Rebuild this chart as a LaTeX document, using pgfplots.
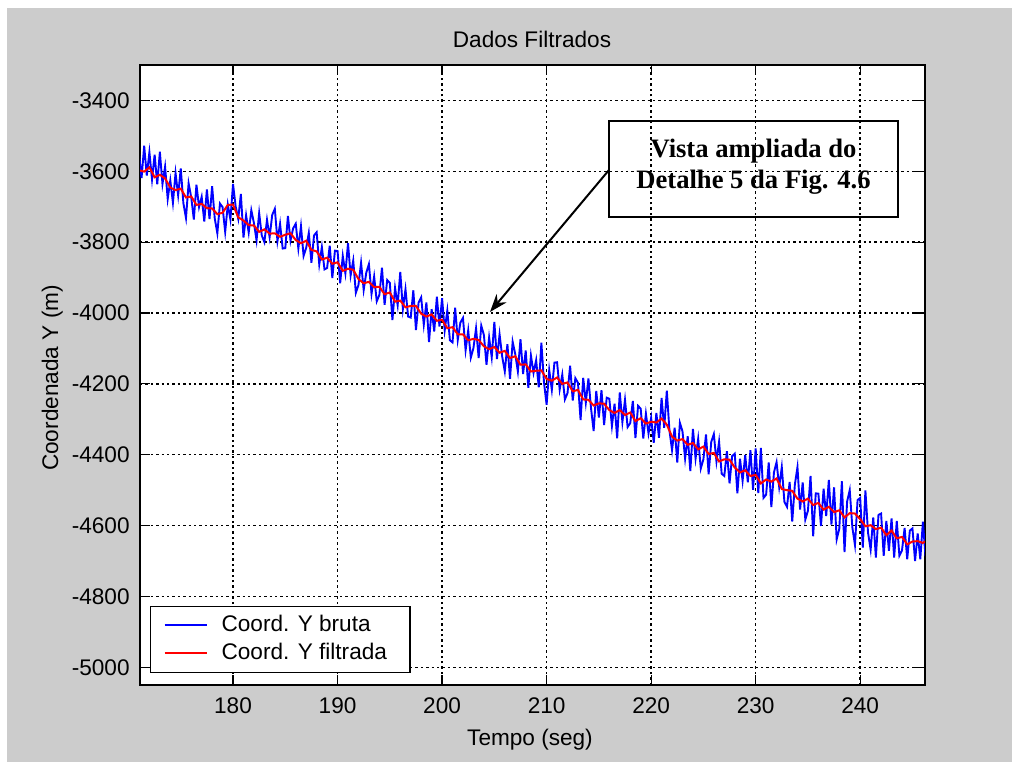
\documentclass[border=0pt]{standalone}
\usepackage{fontspec}
\setmainfont{Liberation Sans}
\newfontfamily\tnr{Liberation Serif}
\usepackage{pgfplots}
\pgfplotsset{compat=1.18}
\pgfplotsset{legend image code/.code={\path (0pt,0pt); \draw[#1] (2pt,0pt) -- (23pt,0pt);}}
\usetikzlibrary{arrows.meta}
\definecolor{bg}{RGB}{204,204,204}
\newcommand\mfont{\fontsize{11.3}{13.5}\selectfont}
\begin{document}
\begin{tikzpicture}
\fill[white] (0pt,0pt) rectangle (506pt,381pt);
\fill[bg] (3.5pt,0pt) rectangle (506pt,377pt);
\begin{axis}[
  at={(70pt,38.5pt)}, anchor=south west,
  scale only axis, width=392.5pt, height=310pt,
  xmin=171.1, xmax=246.2, ymin=-5050, ymax=-3300,
  xtick={180,190,...,240}, xticklabels={180,190,200,210,220,230,240},
  ytick={-5000,-4800,...,-3400},
  yticklabels={-5000,-4800,-4600,-4400,-4200,-4000,-3800,-3600,-3400},
  grid=major,
  major grid style={black, line width=0.7pt, dash pattern=on 1.2pt off 1.5pt},
  tick align=inside, major tick length=5pt,
  tick style={black, line width=0.6pt},
  axis line style={black, line width=0.8pt},
  axis background/.style={fill=white},
  tick label style={font=\mfont, inner sep=0pt},
  xticklabel style={yshift=-6pt},
  yticklabel style={xshift=-5pt},
  legend style={at={(axis description cs:0,0)}, anchor=south west,
    xshift=5pt, yshift=6pt, draw=black, line width=0.6pt, fill=white,
    font=\mfont, inner xsep=4.5pt, inner ysep=4.5pt, row sep=4pt,
    nodes={inner xsep=7pt, inner ysep=0pt, text height=8pt, text depth=2pt, anchor=west}},
  legend cell align=left,
]
\addplot[blue, line width=0.95pt] coordinates {
(171,-3549)(171.25,-3619)(171.5,-3528)(171.75,-3612)
(172,-3546)(172.25,-3623)(172.5,-3553)(172.75,-3637)
(173,-3545)(173.25,-3636)(173.5,-3587)(173.75,-3678)
(174,-3626)(174.25,-3689)(174.5,-3605)(174.75,-3668)
(175,-3592)(175.25,-3690)(175.5,-3732)(175.75,-3634)
(176,-3673)(176.25,-3736)(176.5,-3638)(176.75,-3701)
(177,-3672)(177.25,-3742)(177.5,-3651)(177.75,-3735)
(178,-3642)(178.25,-3733)(178.5,-3775)(178.75,-3691)
(179,-3701)(179.25,-3771)(179.5,-3694)(179.75,-3736)
(180,-3636)(180.25,-3699)(180.5,-3734)(180.75,-3664)
(181,-3787)(181.25,-3724)(181.5,-3773)(181.75,-3710)
(182,-3746)(182.25,-3795)(182.5,-3718)(182.75,-3781)
(183,-3800)(183.25,-3737)(183.5,-3786)(183.75,-3723)
(184,-3706)(184.25,-3797)(184.5,-3748)(184.75,-3818)
(185,-3817)(185.25,-3726)(185.5,-3796)(185.75,-3761)
(186,-3748)(186.25,-3818)(186.5,-3755)(186.75,-3839)
(187,-3816)(187.25,-3774)(187.5,-3858)(187.75,-3781)
(188,-3772)(188.25,-3863)(188.5,-3814)(188.75,-3877)
(189,-3873)(189.25,-3810)(189.5,-3901)(189.75,-3824)
(190,-3825)(190.25,-3916)(190.5,-3839)(190.75,-3888)
(191,-3803)(191.25,-3894)(191.5,-3852)(191.75,-3943)
(192,-3921)(192.25,-3858)(192.5,-3935)(192.75,-3886)
(193,-3862)(193.25,-3946)(193.5,-3897)(193.75,-3967)
(194,-3949)(194.25,-3872)(194.5,-3977)(194.75,-3907)
(195,-3915)(195.25,-4020)(195.5,-3929)(195.75,-3978)
(196,-3884)(196.25,-3989)(196.5,-3933)(196.75,-4010)
(197,-4013)(197.25,-3936)(197.5,-4048)(197.75,-3971)
(198,-3956)(198.25,-4033)(198.5,-3970)(198.75,-4082)
(199,-3989)(199.25,-4052)(199.5,-3954)(199.75,-4038)
(200,-3958)(200.25,-4049)(200.5,-3993)(200.75,-4077)
(201,-4083)(201.25,-3985)(201.5,-4076)(201.75,-4027)
(202,-4014)(202.25,-4105)(202.5,-4049)(202.75,-4126)
(203,-4099)(203.25,-4043)(203.5,-4127)(203.75,-4036)
(204,-4062)(204.25,-4146)(204.5,-4069)(204.75,-4125)
(205,-4025)(205.25,-4130)(205.5,-4060)(205.75,-4123)
(206,-4165)(206.25,-4088)(206.5,-4186)(206.75,-4081)
(207,-4116)(207.25,-4165)(207.5,-4074)(207.75,-4172)
(208,-4106)(208.25,-4211)(208.5,-4120)(208.75,-4169)
(209,-4133)(209.25,-4210)(209.5,-4084)(209.75,-4196)
(210,-4259)(210.25,-4161)(210.5,-4217)(210.75,-4140)
(211,-4139)(211.25,-4216)(211.5,-4174)(211.75,-4244)
(212,-4226)(212.25,-4149)(212.5,-4247)(212.75,-4184)
(213,-4197)(213.25,-4302)(213.5,-4183)(213.75,-4253)
(214,-4185)(214.25,-4269)(214.5,-4333)(214.75,-4220)
(215,-4295)(215.25,-4218)(215.5,-4316)(215.75,-4239)
(216,-4242)(216.25,-4319)(216.5,-4256)(216.75,-4354)
(217,-4224)(217.25,-4308)(217.5,-4245)(217.75,-4322)
(218,-4311)(218.25,-4248)(218.5,-4353)(218.75,-4262)
(219,-4270)(219.25,-4354)(219.5,-4284)(219.75,-4340)
(220,-4296)(220.25,-4366)(220.5,-4282)(220.75,-4352)
(221,-4240)(221.25,-4324)(221.5,-4219)(221.75,-4331)
(222,-4387)(222.25,-4324)(222.5,-4422)(222.75,-4310)
(223,-4334)(223.25,-4411)(223.5,-4348)(223.75,-4446)
(224,-4327)(224.25,-4411)(224.5,-4355)(224.75,-4439)
(225,-4413)(225.25,-4343)(225.5,-4455)(225.75,-4364)
(226,-4342)(226.25,-4419)(226.5,-4363)(226.75,-4454)
(227,-4460)(227.25,-4390)(227.5,-4481)(227.75,-4404)
(228,-4397)(228.25,-4509)(228.5,-4411)(228.75,-4474)
(229,-4401)(229.25,-4478)(229.5,-4387)(229.75,-4499)
(230,-4382)(230.25,-4508)(230.5,-4381)(230.75,-4522)
(231,-4513)(231.25,-4422)(231.5,-4548)(231.75,-4450)
(232,-4421)(232.25,-4491)(232.5,-4435)(232.75,-4533)
(233,-4547)(233.25,-4477)(233.5,-4589)(233.75,-4484)
(234,-4435)(234.25,-4555)(234.5,-4478)(234.75,-4583)
(235,-4558)(235.25,-4460)(235.5,-4630)(235.75,-4509)
(236,-4510)(236.25,-4601)(236.5,-4496)(236.75,-4573)
(237,-4471)(237.25,-4597)(237.5,-4492)(237.75,-4639)
(238,-4609)(238.25,-4475)(238.5,-4675)(238.75,-4532)
(239,-4500)(239.25,-4605)(239.5,-4655)(239.75,-4528)
(240,-4522)(240.25,-4662)(240.5,-4501)(240.75,-4620)
(241,-4668)(241.25,-4577)(241.5,-4690)(241.75,-4570)
(242,-4566)(242.25,-4685)(242.5,-4587)(242.75,-4671)
(243,-4580)(243.25,-4690)(243.5,-4587)(243.75,-4685)
(244,-4670)(244.25,-4607)(244.5,-4695)(244.75,-4614)
(245,-4608)(245.25,-4700)(245.5,-4622)(245.75,-4695)
(246,-4589)(246.25,-4687)
};
\addlegendentry{Coord. Y bruta}
\addplot[red, line width=1pt] coordinates {
(171,-3597)(171.5,-3601)(172,-3589)(172.5,-3617)(173,-3610)(173.5,-3620)
(174,-3646)(174.5,-3653)(175,-3649)(175.5,-3674)(176,-3671)(176.5,-3695)
(177,-3692)(177.5,-3704)(178,-3705)(178.5,-3721)(179,-3717)(179.5,-3695)
(180,-3694)(180.5,-3730)(181,-3739)(181.5,-3752)(182,-3753)(182.5,-3771)
(183,-3764)(183.5,-3776)(184,-3775)(184.5,-3785)(185,-3779)(185.5,-3775)
(186,-3794)(186.5,-3803)(187,-3796)(187.5,-3822)(188,-3826)(188.5,-3849)
(189,-3844)(189.5,-3861)(190,-3857)(190.5,-3881)(191,-3875)(191.5,-3878)
(192,-3904)(192.5,-3916)(193,-3912)(193.5,-3927)(194,-3926)(194.5,-3947)
(195,-3942)(195.5,-3968)(196,-3965)(196.5,-3984)(197,-3980)(197.5,-3980)
(198,-4002)(198.5,-4010)(199,-4004)(199.5,-4022)(200,-4019)(200.5,-4043)
(201,-4040)(201.5,-4060)(202,-4060)(202.5,-4077)(203,-4073)(203.5,-4076)
(204,-4094)(204.5,-4102)(205,-4096)(205.5,-4112)(206,-4107)(206.5,-4127)
(207,-4122)(207.5,-4146)(208,-4145)(208.5,-4165)(209,-4163)(209.5,-4162)
(210,-4186)(210.5,-4191)(211,-4182)(211.5,-4200)(212,-4196)(212.5,-4221)
(213,-4217)(213.5,-4244)(214,-4245)(214.5,-4261)(215,-4255)(215.5,-4256)
(216,-4274)(216.5,-4282)(217,-4274)(217.5,-4288)(218,-4281)(218.5,-4305)
(219,-4297)(219.5,-4312)(220,-4307)(220.5,-4309)(221,-4298)(221.5,-4315)
(222,-4349)(222.5,-4360)(223,-4356)(223.5,-4372)(224,-4367)(224.5,-4385)
(225,-4377)(225.5,-4398)(226,-4395)(226.5,-4419)(227,-4413)(227.5,-4414)
(228,-4436)(228.5,-4450)(229,-4444)(229.5,-4460)(230,-4457)(230.5,-4481)
(231,-4470)(231.5,-4476)(232,-4467)(232.5,-4497)(233,-4500)(233.5,-4502)
(234,-4524)(234.5,-4532)(235,-4524)(235.5,-4542)(236,-4536)(236.5,-4555)
(237,-4547)(237.5,-4562)(238,-4557)(238.5,-4577)(239,-4565)(239.5,-4566)
(240,-4582)(240.5,-4602)(241,-4599)(241.5,-4610)(242,-4606)(242.5,-4627)
(243,-4614)(243.5,-4636)(244,-4632)(244.5,-4653)(245,-4645)(245.5,-4644)
(246,-4649)(246.5,-4640)
};
\addlegendentry{Coord. Y filtrada}
\end{axis}
\node[font=\mfont, anchor=base] at (266pt,357pt) {Dados Filtrados};
\node[font=\mfont, anchor=base] at (265pt,8.5pt) {Tempo (seg)};
\node[font=\mfont, anchor=base, rotate=90] at (29pt,192pt) {Coordenada Y (m)};
\draw[black, line width=1.2pt] (304.5pt,272.5pt) rectangle (449pt,320.5pt);
\node[font={\tnr\bfseries\fontsize{13.3}{16}\selectfont}, anchor=base, inner sep=0pt] at (376.75pt,302pt) {Vista ampliada do};
\node[font={\tnr\bfseries\fontsize{13.3}{16}\selectfont}, anchor=base, inner sep=0pt] at (376.75pt,286.5pt) {Detalhe 5 da Fig. 4.6};
\draw[black, line width=1pt, -{Stealth[length=9pt, width=6.5pt]}] (304.5pt,296pt) -- (245pt,225pt);
\end{tikzpicture}
\end{document}
